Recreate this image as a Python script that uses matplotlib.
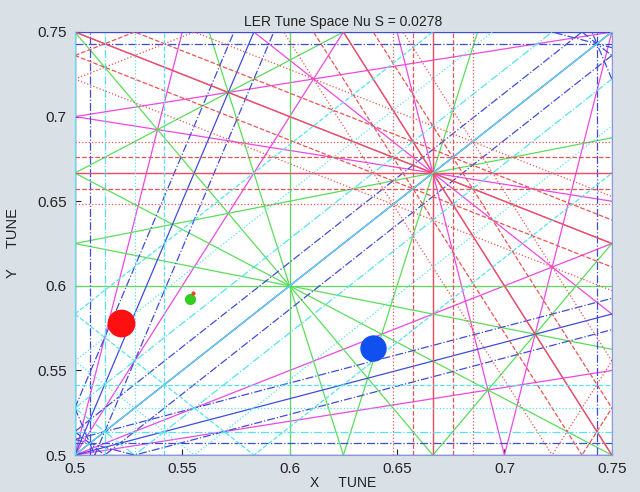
import numpy as np
import matplotlib
matplotlib.use("Agg")
import matplotlib.pyplot as plt

plt.rcParams['font.family'] = ['Liberation Sans', 'DejaVu Sans']

# tune window and synchrotron tune
nu_s = 0.0278
x_range = [0.5, 0.75]
y_range = [0.5, 0.75]

# resonance orders drawn, colour per order, sideband count per order
orders = [2, 3, 4, 5, 6]
order_colors = {2: '#55e2f0', 3: '#e85454', 4: '#3e4cdc', 5: '#5ade5a', 6: '#ee48e2'}
max_sideband = {2: 3, 3: 2, 4: 1, 5: 0, 6: 0}
sideband_styles = {
    2: ['-', '-.', ':', '--'],
    3: ['-', '--', ':'],
    4: ['-', '-.'],
    5: ['-'],
    6: ['-'],
}

# working points
wp_x = [0.5214, 0.6387]
wp_y = [0.578, 0.5632]
wp_colors = ['#ff1010', '#1050ee']
wp_sizes = [19, 18]

# measured tune spot
spot_x = [0.5535]
spot_y = [0.5925]
spot2_x = [0.5548]
spot2_y = [0.5955]


def coeff_pairs(order):
    """ all (m, n) with |m|+|n| = order, one of each +/- pair """
    pairs = []
    for m in range(0, order + 1):
        r = order - m
        if m == 0:
            pairs.append((0, r))
        elif r == 0:
            pairs.append((m, 0))
        else:
            pairs.append((m, r))
            pairs.append((m, -r))
    return pairs


fig = plt.figure(figsize=(6.4, 4.92), dpi=100, facecolor='#d9e1e7')
ax = fig.add_axes([0.117, 0.075, 0.839, 0.86])
ax.set_facecolor('white')

xs = np.array(x_range)
corners = [(x, y) for x in x_range for y in y_range]
eps = 1e-9

# draw high orders first so low orders end up on top
for order in sorted(orders, reverse=True):
    color = order_colors[order]
    K = max_sideband[order]
    for m, n in coeff_pairs(order):
        vals = [m * cx + n * cy for cx, cy in corners]
        lo, hi = min(vals), max(vals)
        for k in range(-K, K + 1):
            ls = sideband_styles[order][abs(k)]
            z = 10 - order + (0.5 if k == 0 else 0)
            for p in range(int(np.ceil(lo + k * nu_s - eps)), int(np.floor(hi + k * nu_s + eps)) + 1):
                c = p - k * nu_s
                if n == 0:
                    ax.plot([c / m, c / m], y_range, color=color, ls=ls, lw=0.9, zorder=z)
                else:
                    ys = (c - m * xs) / n
                    ax.plot(xs, ys, color=color, ls=ls, lw=0.9, zorder=z)

ax.plot(spot_x, spot_y, 'o', color='#33cc22', ms=7, mec='#33cc22', zorder=20)
ax.plot(spot2_x, spot2_y, 'o', color='#ee4422', ms=3, mec='none', zorder=21)
for x, y, c, s in zip(wp_x, wp_y, wp_colors, wp_sizes):
    ax.plot(x, y, 'o', color=c, ms=s, mec=c, zorder=22)

ax.set_xlim(x_range)
ax.set_ylim(y_range)
ax.set_xticks([0.5, 0.55, 0.6, 0.65, 0.7, 0.75])
ax.set_xticklabels(['0.5', '0.55', '0.6', '0.65', '0.7', '0.75'])
ax.set_yticks([0.5, 0.55, 0.6, 0.65, 0.7, 0.75])
ax.set_yticklabels(['0.5', '0.55', '0.6', '0.65', '0.7', '0.75'])
ax.tick_params(direction='in', length=4, labelsize=11, colors='#222222')
ax.tick_params(axis='x', pad=5)
ax.tick_params(axis='y', pad=6)
for sp in ax.spines.values():
    sp.set_color('#8899dd')
    sp.set_linewidth(0.8)

ax.set_title('LER Tune Space Nu S = 0.0278', fontsize=10, color='#222222', pad=4)
ax.set_xlabel('X     TUNE', fontsize=10, color='#222222', labelpad=0)
ax.set_ylabel('Y     TUNE', fontsize=10.5, color='#222222', labelpad=12)

fig.savefig('out.png', dpi=100, facecolor=fig.get_facecolor())
